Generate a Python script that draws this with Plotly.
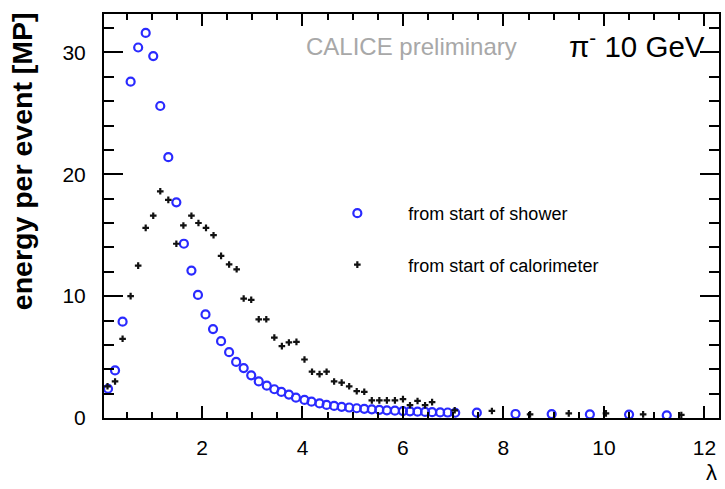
import plotly.graph_objects as go

# from start of shower (blue open circles)
shower_x = [0.13, 0.27, 0.42, 0.58, 0.73, 0.88, 1.03, 1.17, 1.33, 1.49, 1.64, 1.79, 1.92,
            2.07, 2.22, 2.38, 2.54, 2.68, 2.83, 2.98, 3.13, 3.29, 3.44, 3.58, 3.73, 3.87,
            4.04, 4.18, 4.34, 4.48, 4.63, 4.78, 4.93, 5.08, 5.23, 5.38, 5.53, 5.68, 5.84,
            6.00, 6.14, 6.29, 6.44, 6.58, 6.74, 6.89, 7.04, 7.47, 8.24, 8.96, 9.72, 10.50, 11.25]
shower_y = [2.4, 3.9, 7.9, 27.6, 30.4, 31.6, 29.7, 25.6, 21.4, 17.7, 14.3, 12.1, 10.1,
            8.5, 7.3, 6.3, 5.4, 4.6, 4.1, 3.5, 3.0, 2.65, 2.36, 2.14, 1.92, 1.67,
            1.48, 1.34, 1.20, 1.07, 0.99, 0.92, 0.86, 0.80, 0.75, 0.71, 0.67, 0.63, 0.60,
            0.57, 0.55, 0.52, 0.50, 0.48, 0.46, 0.45, 0.43, 0.44, 0.33, 0.32, 0.30, 0.28, 0.22]

# from start of calorimeter (black points)
calo_x = [0.12, 0.27, 0.42, 0.58, 0.73, 0.88, 1.03, 1.17, 1.33, 1.49, 1.63, 1.79, 1.93,
          2.08, 2.23, 2.38, 2.54, 2.69, 2.83, 2.98, 3.13, 3.28, 3.44, 3.59, 3.73, 3.88,
          4.04, 4.19, 4.34, 4.48, 4.63, 4.78, 4.93, 5.08, 5.23, 5.38, 5.53, 5.68, 5.84,
          6.00, 6.14, 6.29, 6.44, 6.58, 7.03, 7.77, 8.53, 9.30, 10.04, 10.78, 11.54]
calo_y = [2.6, 3.0, 6.5, 10.0, 12.5, 15.6, 16.6, 18.6, 17.9, 14.3, 15.8, 16.6, 16.0,
          15.6, 15.0, 13.3, 12.6, 12.2, 9.8, 9.7, 8.1, 8.1, 6.6, 5.9, 6.2, 6.25,
          4.8, 3.8, 3.6, 3.8, 3.0, 2.9, 2.6, 2.2, 2.15, 1.45, 1.45, 1.45, 1.45,
          1.55, 1.05, 1.4, 1.05, 1.3, 0.63, 0.58, 0.30, 0.38, 0.38, 0.30, 0.25]

series_names = ["from start of shower", "from start of calorimeter"]
x_range = [0.05, 12.29]
y_range = [0, 33.15]

FONT = "Liberation Sans, Arial, Helvetica, sans-serif"

fig = go.Figure()
fig.add_trace(go.Scatter(
    x=shower_x, y=shower_y, mode="markers", name=series_names[0], legendgroup="a",
    marker=dict(symbol="circle-open", size=8, color="#2a2aff", line=dict(width=2.2, color="#2a2aff")),
))
fig.add_trace(go.Scatter(
    x=calo_x, y=calo_y, mode="markers", name=series_names[1], legendgroup="b",
    marker=dict(symbol="cross", size=5.5, color="#111111", line=dict(width=0)),
))

axis_common = dict(
    showgrid=False, zeroline=False, showline=True, linecolor="black", linewidth=2,
    mirror="allticks", ticks="inside", tickcolor="black", tickwidth=2,
    tickfont=dict(family=FONT, size=21, color="black"),
)

fig.update_xaxes(
    range=x_range, tick0=0, dtick=2, ticklen=12, ticklabelstandoff=10,
    minor=dict(dtick=0.5, tick0=0, ticks="inside", ticklen=6, tickcolor="black", tickwidth=1.5),
    **axis_common,
)
fig.update_yaxes(
    range=y_range, tick0=0, dtick=10, ticklen=19, ticklabelstandoff=12,
    minor=dict(dtick=2, tick0=0, ticks="inside", ticklen=10, tickcolor="black", tickwidth=1.5),
    **axis_common,
)

fig.update_layout(
    width=725, height=489,
    margin=dict(l=104, r=4, t=14, b=71),
    paper_bgcolor="white", plot_bgcolor="white",
    font=dict(family=FONT, color="black"),
    showlegend=True,
    legend=dict(
        x=0.329, y=0.552, xanchor="left", yanchor="top",
        bgcolor="rgba(0,0,0,0)", itemwidth=92, tracegroupgap=25,
        font=dict(family=FONT, size=18, color="black"),
    ),
    annotations=[
        dict(text="CALICE preliminary", xref="paper", yref="paper", x=0.675, y=0.92,
             xanchor="right", yanchor="middle", showarrow=False,
             font=dict(family=FONT, size=24, color="#a8a8a8")),
        dict(text="π<sup>-</sup> 10 GeV", xref="paper", yref="paper", x=0.98, y=0.925,
             xanchor="right", yanchor="middle", showarrow=False,
             font=dict(family=FONT, size=29.5, color="black")),
        dict(text="<b>energy per event [MP]</b>", xref="paper", yref="paper",
             x=-0.133, y=1.01, xanchor="center", yanchor="top", textangle=-90,
             showarrow=False, font=dict(family=FONT, size=28.5, color="black")),
        dict(text="λ", xref="paper", yref="paper", x=1.0, y=-0.135,
             xanchor="right", yanchor="middle", showarrow=False,
             font=dict(family=FONT, size=22, color="black")),
    ],
)

fig.write_html("out.html")
